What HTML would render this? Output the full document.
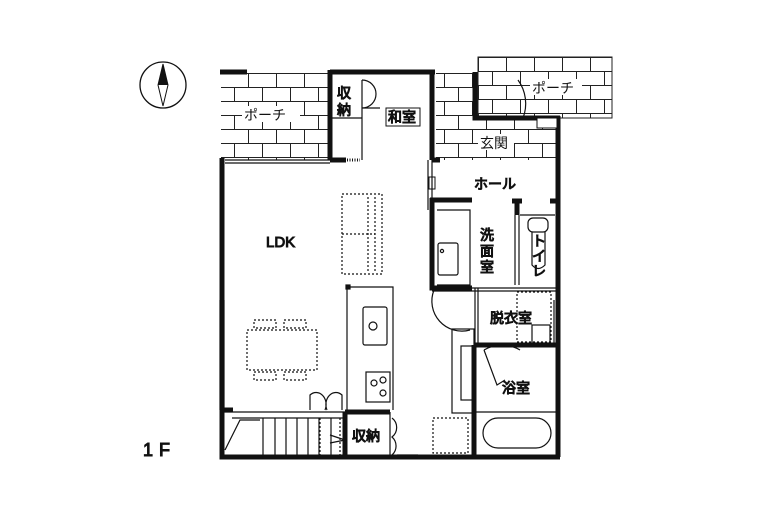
<!DOCTYPE html>
<html><head><meta charset="utf-8"><style>
body{margin:0;background:#fff}
svg{display:block}
text{font-family:"Liberation Sans","Noto Sans CJK JP",sans-serif;fill:#111;font-weight:normal}
</style></head><body>
<svg width="780" height="520" viewBox="0 0 780 520" xmlns="http://www.w3.org/2000/svg">
<defs>
<pattern id="brick" x="220" y="73" width="28" height="28" patternUnits="userSpaceOnUse">
<rect width="28" height="28" fill="#fff"/>
<path d="M0 0.5H28M0 14.5H28M0.5 0V14.5M14.5 14.5V28" stroke="#222" stroke-width="1" fill="none"/>
</pattern>
<pattern id="brick2" x="478" y="57" width="28" height="28" patternUnits="userSpaceOnUse">
<rect width="28" height="28" fill="#fff"/>
<path d="M0 0.5H28M0 14.5H28M0.5 0V14.5M14.5 14.5V28" stroke="#222" stroke-width="1" fill="none"/>
</pattern>
</defs>
<circle cx="163" cy="85" r="23" fill="none" stroke="#111" stroke-width="1.3"/>
<path d="M163 64 L168 85 L163 106 L158 85 Z" fill="#fff" stroke="#111"/>
<path d="M163 64 L168 85 L158 85 Z" fill="#111"/>

<rect x="221" y="73" width="109" height="87" fill="url(#brick)"/>
<rect x="434" y="73" width="42" height="87" fill="url(#brick)"/>
<rect x="476" y="118" width="82" height="42" fill="url(#brick)"/>
<rect x="478" y="57" width="134" height="61" fill="url(#brick2)" stroke="#222"/>
<rect x="434" y="73" width="2" height="87" fill="#fff"/>
<rect x="242" y="106" width="58" height="16" fill="#fff"/>
<text x="244" y="120" font-size="14">ポーチ</text>
<rect x="530" y="79" width="52" height="16" fill="#fff"/>
<text x="532" y="93" font-size="14">ポーチ</text>
<rect x="478" y="134" width="36" height="16" fill="#fff"/>
<text x="480" y="148" font-size="14">玄関</text>

<g stroke="#111" fill="none">
<g stroke-width="5">
<path d="M220 72H247"/>
<path d="M330 70V160M330 72H435"/>
<path d="M432 72V160"/>
<path d="M475 72V118H560M558 116V457"/>
<path d="M222 158V457H560"/>
<path d="M330 160H346"/>
<path d="M430 200H472M432 198V288H472"/>
<path d="M517 200V215M512 201H522M550 201H556"/>
<path d="M474 345V455M474 345H556"/>
<path d="M220 410H233M345 412V455M345 412H390"/>
<path d="M432 160H440"/>
</g>
<g stroke-width="1.2">
<path d="M225 160H330M225 163H330"/>
<path d="M330 118H362M362 80V160"/>
<path d="M347 160H360" stroke-dasharray="1 1.5" stroke-width="3"/>
<path d="M220 300V410M224 300V410"/>
<path d="M428 160V210M432 160V210"/>
<path d="M432 288H558M432 291H558"/>
<path d="M475 288V345M478 288V345"/>
<path d="M554 300V345"/>
<path d="M515 215V285M519 215V285"/>
<path d="M520 215H555"/>
<path d="M437 210H470V285H437"/>
<rect x="438" y="243" width="20" height="32" rx="2"/>
<circle cx="442" cy="251" r="1.6"/>
<rect x="528" y="218" width="20" height="14" rx="5"/>
<path d="M532 232V265Q538 272 545 265V232"/>
<path d="M362 80 A 14 14 0 0 1 362 108 M362 108H380"/>
<path d="M518 80 A 40 40 0 0 1 523 118"/>
<path d="M434 290 A 30 30 0 0 0 470 330"/>
<path d="M484 350 L497 385 L505 380"/>
<path d="M484 350 A 36 36 0 0 1 520 350"/>
<rect x="517" y="292" width="34" height="50" stroke-dasharray="2 2"/>
<rect x="532" y="325" width="18" height="18"/>
<path d="M347 287V410M347 287H393V410"/>
<rect x="346" y="285" width="4" height="4" fill="#111"/>
<rect x="363" y="307" width="24" height="38" rx="2"/>
<circle cx="373" cy="326" r="4"/>
<rect x="366" y="372" width="24" height="30"/>
<circle cx="374" cy="383" r="3"/><circle cx="383" cy="380" r="3"/><circle cx="383" cy="393" r="3"/>
<g stroke-dasharray="2 2">
<rect x="342" y="194" width="40" height="80"/>
<path d="M342 234H375M368 197V272M375 197V272"/>
<rect x="247" y="330" width="70" height="40"/>
<rect x="254" y="320" width="22" height="8"/><rect x="284" y="320" width="22" height="8"/>
<rect x="254" y="372" width="22" height="8"/><rect x="284" y="372" width="22" height="8"/>
<rect x="433" y="418" width="35" height="35"/>
</g>
<rect x="452" y="329" width="22" height="84"/>
<rect x="461" y="346" width="13" height="54"/>
<rect x="483" y="418" width="68" height="30" rx="15"/>
<path d="M474 412H558"/>
<path d="M222 412H345M232 418H345M225 450L240 420H260"/>
<path d="M263 418V455M275 418V455M286 418V455M297 418V455M308 418V455M319 418V455M331 418V455"/>
<path d="M320 418V455M340 418V455" stroke-dasharray="2 2"/>
<path d="M330 435L345 440M330 443L345 440"/>
<path d="M310 410V395 A 10 12 0 0 1 325 410 M342 410V395 A 10 12 0 0 0 327 410"/>
<path d="M392 418 A 12 12 0 0 1 392 437 A 12 12 0 0 1 392 455M390 412V455"/>
<path d="M397 455H418M397 458H418"/>
</g>
<rect x="429" y="177" width="6" height="12" fill="none" stroke="#111"/>
<rect x="537" y="118" width="20" height="10" fill="#fff"/>

<text x="337" y="98" font-size="14">収</text>
<text x="337" y="115" font-size="14">納</text>
<rect x="386" y="108" width="34" height="18" fill="#fff"/>
<text x="388" y="122" font-size="14">和室</text>
<text x="474" y="189" font-size="14">ホール</text>
<text x="266" y="247" font-size="15">LDK</text>
<text x="480" y="240" font-size="14">洗</text>
<text x="480" y="256" font-size="14">面</text>
<text x="480" y="272" font-size="14">室</text>
<text x="532" y="246" font-size="14">ト</text>
<text x="532" y="261" font-size="14">イ</text>
<text x="532" y="276" font-size="14">レ</text>
<text x="490" y="323" font-size="14">脱衣室</text>
<text x="502" y="393" font-size="14">浴室</text>
<text x="352" y="441" font-size="14">収納</text>
<text x="143" y="456" font-size="18" letter-spacing="6">1F</text>
</svg>
</body></html>
